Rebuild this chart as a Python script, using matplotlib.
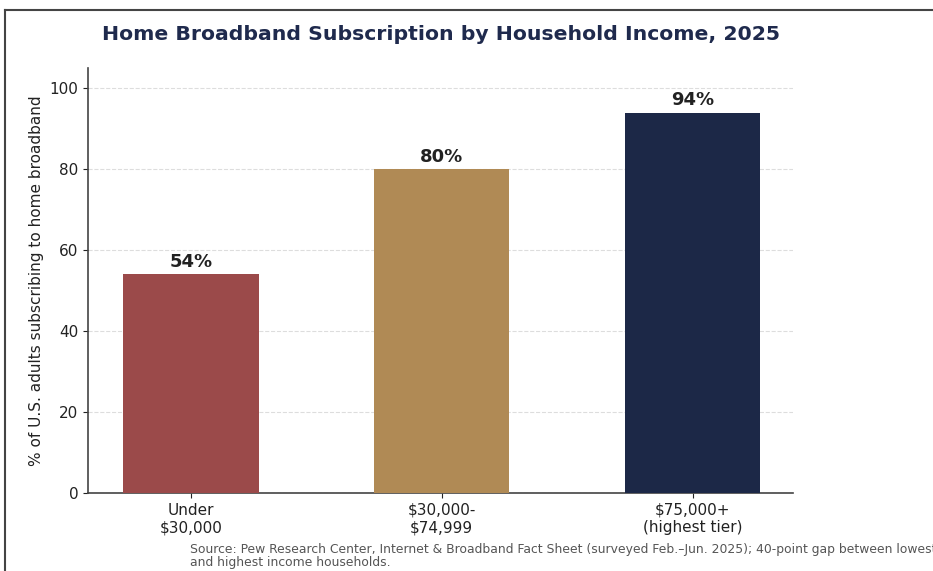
import matplotlib.pyplot as plt
from matplotlib.lines import Line2D

# data
categories = ["Under\n$30,000", "$30,000-\n$74,999", "$75,000+\n(highest tier)"]
values = [54, 80, 94]
colors = ["#9B4A4A", "#B08A55", "#1C2847"]

fig = plt.figure(figsize=(9.33, 5.71), dpi=100)
ax = fig.add_axes([88 / 933, 1 - 493 / 571, (793 - 88) / 933, (493 - 68) / 571])

x = range(len(categories))
bars = ax.bar(x, values, width=0.54, color=colors, zorder=3)
for b, v in zip(bars, values):
    ax.text(b.get_x() + b.get_width() / 2, v + 0.9, f"{v}%", ha="center", va="bottom",
            fontsize=13, fontweight="bold", color="#222222")

ax.set_xlim(-0.41, 2.40)
ax.set_ylim(0, 105)
ax.set_yticks([0, 20, 40, 60, 80, 100])
ax.set_xticks(list(x))
ax.set_xticklabels(categories, fontsize=11, color="#222222")
ax.tick_params(axis="y", labelsize=11, colors="#222222")
ax.tick_params(axis="x", colors="#222222")
ax.yaxis.grid(True, linestyle="--", color="#dddddd", linewidth=0.8, zorder=0)
ax.set_axisbelow(True)
for s in ["top", "right"]:
    ax.spines[s].set_visible(False)
for s in ["left", "bottom"]:
    ax.spines[s].set_color("#444444")
    ax.spines[s].set_linewidth(1.2)
ax.set_ylabel("% of U.S. adults subscribing to home broadband", fontsize=11, color="#222222")

fig.text(441 / 933, 1 - 35 / 571, "Home Broadband Subscription by Household Income, 2025",
         ha="center", va="center", fontsize=14.7, fontweight="bold", color="#1F2A4D")

fig.text(190 / 933, 1 - 556 / 571,
         "Source: Pew Research Center, Internet & Broadband Fact Sheet (surveyed Feb.\u2013Jun. 2025); "
         "40-point gap between lowest\nand highest income households.",
         ha="left", va="center", fontsize=8.9, color="#555555", linespacing=1.05)

# screenshot frame
fig.add_artist(Line2D([5 / 933, 1], [1 - 10 / 571] * 2, color="#444444", linewidth=1.5))
fig.add_artist(Line2D([5 / 933] * 2, [0, 1 - 10 / 571], color="#444444", linewidth=1.5))

fig.savefig("out.png", dpi=100)
